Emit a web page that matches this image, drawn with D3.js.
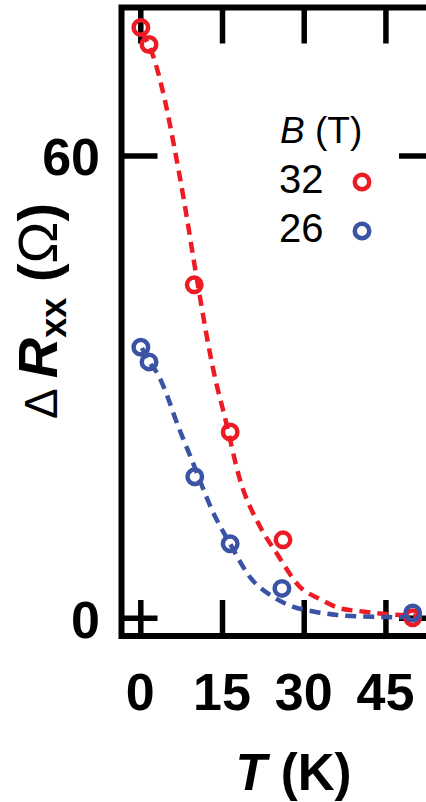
<!DOCTYPE html>
<html><head><meta charset="utf-8">
<script src="https://cdn.jsdelivr.net/npm/d3@7"></script>
<style>body{margin:0;background:#fff;} svg{display:block;}</style>
</head><body>
<svg id="c" width="426" height="802"></svg>
<script>
// ---- data ----
const xTicks = [0, 15, 30, 45];
const yTicks = [0, 60];
const series = ["32", "26"];
const T32 = [0.1, 1.6, 9.9, 16.5, 26.2, 50.0];
const R32 = [76.6, 74.4, 43.2, 24.1, 10.1, 0.0];
const T26 = [0.1, 1.6, 10.0, 16.5, 26.0, 50.0];
const R26 = [35.1, 33.2, 18.3, 9.6, 3.8, 0.6];
// dashed fit curves, sampled along the drawn curves
const fitT32 = [0.3, 2.4, 4.5, 6.1, 8.2, 10.0, 13.7, 15.5, 18.3, 22.0, 25.0, 29.3, 33.0, 36.7, 40.3, 44.0, 47.7, 51.5];
const fitR32 = [76.0, 72.8, 67.2, 61.6, 53.4, 45.6, 31.2, 26.1, 17.9, 11.8, 8.4, 4.0, 2.4, 1.2, 0.85, 0.55, 0.35, 0.2];
const fitT26 = [0.3, 1.65, 3.3, 5.1, 6.4, 7.6, 9.1, 13.75, 16.4, 20.1, 24.4, 28.1, 31.8, 36.1, 40.3, 44.0, 47.7, 51.5];
const fitR26 = [35.0, 33.2, 31.5, 28.5, 25.9, 23.7, 21.1, 13.1, 9.7, 5.3, 2.7, 1.4, 0.8, 0.35, 0.15, 0.1, 0.05, 0.05];

const colors = {"32": "#ed1c24", "26": "#3a53a4"};

const svg = d3.select("#c");
const L = 121.5, Rgt = 435, Top = 7.5, Bot = 636;
const x = d3.scaleLinear().domain([-3.45, 54.1]).range([L, Rgt]);
const y = d3.scaleLinear().domain([-2.38, 79.2]).range([Bot, Top]);
const FONT = "'Liberation Sans', Arial, Helvetica, sans-serif";

// frame
svg.append("rect").attr("x", L).attr("y", Top).attr("width", Rgt - L).attr("height", Bot - Top)
  .attr("fill", "none").attr("stroke", "#000").attr("stroke-width", 6);

// ticks (inward)
function styleAxis(g){
  g.select(".domain").remove();
  g.selectAll(".tick line").attr("stroke", "#000").attr("stroke-width", 5.5);
  g.selectAll(".tick text").remove();
}
svg.append("g").attr("transform", `translate(0,${Bot})`).call(d3.axisBottom(x).tickValues(xTicks).tickSize(-36)).call(styleAxis);
svg.append("g").attr("transform", `translate(0,${Top})`).call(d3.axisTop(x).tickValues(xTicks).tickSize(-36)).call(styleAxis);
svg.append("g").attr("transform", `translate(${L},0)`).call(d3.axisLeft(y).tickValues(yTicks).tickSize(-36)).call(styleAxis);
svg.append("g").attr("transform", `translate(${Rgt},0)`).call(d3.axisRight(y).tickValues(yTicks).tickSize(-36)).call(styleAxis);

// tick labels
svg.append("g").selectAll("text").data(xTicks).join("text")
  .attr("x", d => x(d)).attr("y", 710).attr("text-anchor", "middle")
  .attr("font-family", FONT).attr("font-weight", "bold").attr("font-size", 52).text(d => d);
svg.append("g").selectAll("text").data(yTicks).join("text")
  .attr("x", 100).attr("y", d => y(d) + 20).attr("text-anchor", "end")
  .attr("font-family", FONT).attr("font-weight", "bold").attr("font-size", 52).text(d => d);

// x label
const xl = svg.append("text").attr("x", 293.5).attr("y", 790).attr("text-anchor", "middle")
  .attr("font-family", FONT).attr("font-weight", "bold").attr("font-size", 51);
xl.append("tspan").attr("font-style", "italic").text("T");
xl.append("tspan").text(" (K)");

// y label
const yl = svg.append("text").attr("transform", "translate(57,311) rotate(-90)").attr("text-anchor", "middle")
  .attr("font-family", FONT).attr("font-size", 56);
yl.append("tspan").attr("font-size", 46).text("Δ ");
yl.append("tspan").attr("font-weight", "bold").attr("font-style", "italic").text("R");
yl.append("tspan").attr("font-weight", "bold").attr("font-size", 36).attr("dy", 9).text("xx");
yl.append("tspan").attr("font-weight", "bold").attr("dy", -9).text(" (");
yl.append("tspan").text("Ω");
yl.append("tspan").attr("font-weight", "bold").text(")");

// fit curves
const line = d3.line().x(d => x(d[0])).y(d => y(d[1])).curve(d3.curveMonotoneX);
const fits = {"32": d3.zip(fitT32, fitR32), "26": d3.zip(fitT26, fitR26)};
const pts = {"32": d3.zip(T32, R32), "26": d3.zip(T26, R26)};
series.forEach(s => {
  svg.append("path").attr("d", line(fits[s])).attr("fill", "none")
    .attr("stroke", colors[s]).attr("stroke-width", 4.5).attr("stroke-dasharray", "11,7");
});
series.forEach(s => {
  svg.append("g").selectAll("circle").data(pts[s]).join("circle")
    .attr("cx", d => x(d[0])).attr("cy", d => y(d[1])).attr("r", 7.25)
    .attr("fill", "none").attr("stroke", colors[s]).attr("stroke-width", 4.5);
});

// legend
const lt = svg.append("text").attr("x", 280).attr("y", 143)
  .attr("font-family", FONT).attr("font-size", 37);
lt.append("tspan").attr("font-style", "italic").text("B");
lt.append("tspan").text(" (T)");
const legY = [193, 242];
series.forEach((s, i) => {
  svg.append("text").attr("x", 279).attr("y", legY[i]).attr("font-family", FONT)
    .attr("font-size", 40).text(s);
  svg.append("circle").attr("cx", 362).attr("cy", legY[i] - 11).attr("r", 7.25)
    .attr("fill", "none").attr("stroke", colors[s]).attr("stroke-width", 4.5);
});
</script>
</body></html>
